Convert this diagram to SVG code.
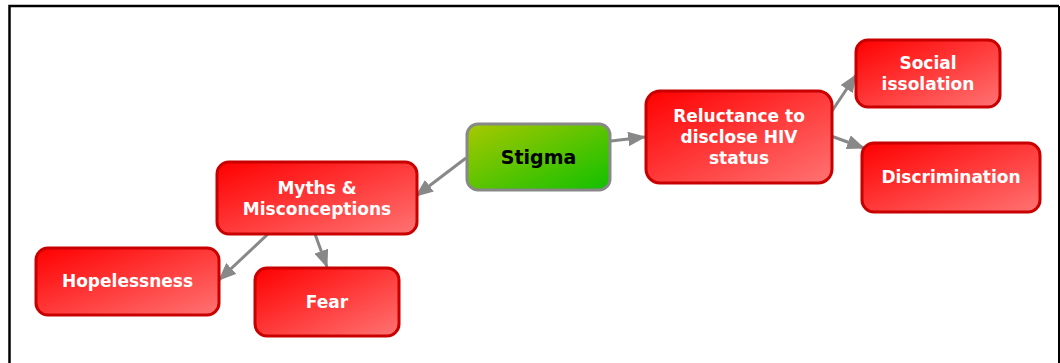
<svg xmlns="http://www.w3.org/2000/svg" width="1060" height="363" viewBox="0 0 1060 363">
<defs>
<linearGradient id="red" x1="0" y1="0" x2="1" y2="1">
<stop offset="0" stop-color="#ff0000"/>
<stop offset="1" stop-color="#ff7373"/>
</linearGradient>
<linearGradient id="green" x1="0" y1="0" x2="1" y2="1">
<stop offset="0" stop-color="#a8c800"/>
<stop offset="1" stop-color="#10c000"/>
</linearGradient>
<marker id="arr" viewBox="0 0 16 13" refX="15" refY="6.5" markerWidth="6" markerHeight="4.9" markerUnits="strokeWidth" orient="auto">
<path d="M0,0 L16,6.5 L0,13 z" fill="#888888"/>
</marker>
<style>
.r{fill:url(#red);stroke:#c80000;stroke-width:3}
.g{fill:url(#green);stroke:#888888;stroke-width:3}
.t{font-family:"DejaVu Sans",Verdana,sans-serif;font-weight:bold;font-size:17px;fill:#ffffff;text-anchor:middle}
.tb{font-family:"DejaVu Sans",Verdana,sans-serif;font-weight:bold;font-size:19px;fill:#000000;text-anchor:middle}
.c{stroke:#888888;stroke-width:3;fill:none;marker-end:url(#arr)}
</style>
</defs>
<rect width="1060" height="363" fill="#ffffff"/>
<path d="M9.5,363 V6 H1059" fill="none" stroke="#000000" stroke-width="2.5"/>
<path d="M1059,6 V363" fill="none" stroke="#000000" stroke-width="2"/>
<g id="connectors">
<line class="c" x1="466" y1="158" x2="416" y2="196"/>
<line class="c" x1="611" y1="141" x2="645" y2="137"/>
<line class="c" x1="268" y1="234" x2="219" y2="280"/>
<line class="c" x1="315" y1="234" x2="327" y2="267"/>
<line class="c" x1="830" y1="114" x2="856" y2="75"/>
<line class="c" x1="831" y1="136" x2="864" y2="148"/>
</g>
<g id="stigma">
<rect class="g" x="467" y="124" width="143" height="66" rx="11"/>
<text class="tb" x="538.5" y="164">Stigma</text>
</g>
<g id="reluctance">
<rect class="r" x="646" y="91" width="186" height="92" rx="14"/>
<text class="t" x="739" y="122">Reluctance to</text>
<text class="t" x="739" y="143">disclose HIV</text>
<text class="t" x="739" y="164">status</text>
</g>
<g id="myths">
<rect class="r" x="217" y="162" width="200" height="72" rx="12"/>
<text class="t" x="317" y="194">Myths &amp;</text>
<text class="t" x="317" y="215">Misconceptions</text>
</g>
<g id="hopelessness">
<rect class="r" x="36" y="248" width="183" height="67" rx="12"/>
<text class="t" x="127.5" y="287">Hopelessness</text>
</g>
<g id="fear">
<rect class="r" x="255" y="268" width="144" height="68" rx="12"/>
<text class="t" x="327" y="308">Fear</text>
</g>
<g id="social">
<rect class="r" x="856" y="40" width="144" height="67" rx="12"/>
<text class="t" x="928" y="69">Social</text>
<text class="t" x="928" y="90">issolation</text>
</g>
<g id="discrimination">
<rect class="r" x="862" y="143" width="178" height="69" rx="12"/>
<text class="t" x="951" y="183">Discrimination</text>
</g>
</svg>
